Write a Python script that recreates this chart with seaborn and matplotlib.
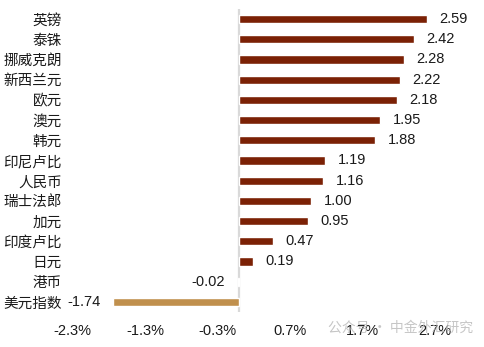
import matplotlib
matplotlib.use("Agg")
import matplotlib.pyplot as plt
import seaborn as sns
import pandas as pd

# Currency moves (%), top to bottom
currencies = ["英镑", "泰铢", "挪威克朗", "新西兰元", "欧元", "澳元", "韩元",
              "印尼卢比", "人民币", "瑞士法郎", "加元", "印度卢比", "日元", "港币", "美元指数"]
changes = [2.59, 2.42, 2.28, 2.22, 2.18, 1.95, 1.88,
           1.19, 1.16, 1.00, 0.95, 0.47, 0.19, -0.02, -1.74]
tick_values = [-2.3, -1.3, -0.3, 0.7, 1.7, 2.7]
tick_labels = ["-2.3%", "-1.3%", "-0.3%", "0.7%", "1.7%", "2.7%"]

bar_color = "#7B2105"
index_color = "#C0904D"
palette = {c: (index_color if c == "美元指数" else bar_color) for c in currencies}

sns.set_theme(style="white")
plt.rcParams["font.family"] = ["Liberation Sans", "Noto Sans CJK SC", "DejaVu Sans"]

df = pd.DataFrame({"currency": currencies, "change": changes})

fig = plt.figure(figsize=(4.85, 3.47), dpi=100)
ax = fig.add_axes([0.1495, 0.1009, 0.7464, 0.8732])

sns.barplot(data=df, x="change", y="currency", hue="currency", palette=palette,
            order=currencies, hue_order=currencies, legend=False, width=0.4,
            saturation=1, ax=ax)

for cont in ax.containers:
    ax.bar_label(cont, fmt="%.2f", padding=9, fontsize=10.5, color="#1a1a1a")

ax.set_xlim(-2.3, 2.7)
ax.set_ylim(14.5, -0.5)
ax.set_xticks(tick_values)
ax.set_xticklabels(tick_labels)
ax.set_xlabel("")
ax.set_ylabel("")
ax.tick_params(axis="x", length=0, pad=9, labelsize=10.5, colors="#1a1a1a")
ax.tick_params(axis="y", length=0, pad=7.5, labelsize=10.5, colors="#1a1a1a")
for s in ax.spines.values():
    s.set_visible(False)
ax.axvline(0, color="#D9D9D9", lw=1.6, zorder=0)

fig.text(0.676, 0.055, "公众号 · 中金外汇研究", fontsize=10, color="#B8B8B8",
         alpha=0.8, family=["Noto Sans CJK SC", "DejaVu Sans"], va="center")

fig.savefig("out.png", dpi=100)
